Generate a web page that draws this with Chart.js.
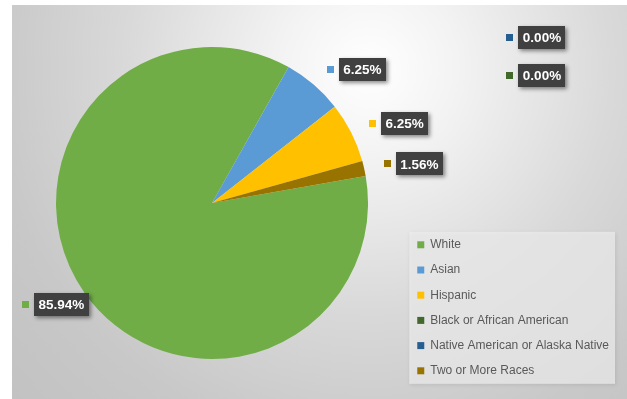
<!DOCTYPE html>
<html>
<head>
<meta charset="utf-8">
<script src="https://cdn.jsdelivr.net/npm/chart.js@4.4.1/dist/chart.umd.min.js"></script>
<style>
    html, body { margin: 0; padding: 0; background: #ffffff; }
    #chartBox {
        position: absolute;
        left: 12px;
        top: 5px;
        width: 615px;
        height: 394px;
        background: radial-gradient(circle at 58% 16%, #ffffff 0%, #f3f3f3 18%, #d9d9d9 50%, #c8c8c8 78%, #c2c2c2 100%);
    }
</style>
</head>
<body>
<div id="chartBox"><canvas id="raceChart"></canvas></div>
<script>
// Chart data
const categories = ['White', 'Asian', 'Hispanic', 'Black or African American', 'Native American or Alaska Native', 'Two or More Races'];
const shares = [85.94, 6.25, 6.25, 0.00, 0.00, 1.56];
const sliceColors = ['#70ad47', '#5b9bd5', '#ffc000', '#43682b', '#255e91', '#997300'];

const legendTextColor = '#595959';
const labelFont = "bold 13.5px 'Liberation Sans', Arial, sans-serif";
const labelGap = 20;    // distance from the pie edge to the label anchor
const labelMargin = 10; // labels are kept this far inside the chart edge

// Draws one data label: coloured square + dark box with white text.
// side = 1 puts the label right of the anchor, -1 left of it, 0 centres it.
function drawLabel(chart, text, color, ax, ay, side) {
    const ctx = chart.ctx;
    const textWidth = ctx.measureText(text).width;
    const boxW = textWidth + 9;
    const boxH = 23;
    const total = 7 + 5 + boxW;
    let left = side > 0 ? ax : side < 0 ? ax - total : ax - total / 2;
    left = Math.max(labelMargin, Math.min(left, chart.width - labelMargin - total));

    ctx.fillStyle = color;
    ctx.fillRect(Math.round(left), Math.round(ay - 3.5), 7, 7);

    ctx.save();
    ctx.shadowColor = 'rgba(0, 0, 0, 0.45)';
    ctx.shadowBlur = 4;
    ctx.shadowOffsetX = 2;
    ctx.shadowOffsetY = 2;
    ctx.fillStyle = '#404040';
    ctx.fillRect(Math.round(left + 12), Math.round(ay - boxH / 2), Math.round(boxW), boxH);
    ctx.restore();

    ctx.fillStyle = '#ffffff';
    ctx.textAlign = 'center';
    ctx.textBaseline = 'middle';
    ctx.fillText(text, left + 12 + boxW / 2, ay + 1);
}

const sliceLabels = {
    id: 'sliceLabels',
    afterDatasetsDraw(chart) {
        const ctx = chart.ctx;
        const meta = chart.getDatasetMeta(0);
        const zeroSlices = [];
        ctx.save();
        ctx.font = labelFont;
        meta.data.forEach((arc, i) => {
            if (shares[i] === 0) {
                zeroSlices.push(i);
                return;
            }
            const mid = (arc.startAngle + arc.endAngle) / 2;
            const dist = arc.outerRadius + labelGap;
            const ax = arc.x + Math.cos(mid) * dist;
            const ay = arc.y + Math.sin(mid) * dist;
            drawLabel(chart, shares[i].toFixed(2) + '%', sliceColors[i], ax, ay, ax >= arc.x ? 1 : -1);
        });
        // empty slices get stacked in the top right corner, last one on top
        zeroSlices.reverse().forEach((i, k) => {
            drawLabel(chart, shares[i].toFixed(2) + '%', sliceColors[i], chart.width - 91, 32.5 + k * 37.5, 0);
        });
        ctx.restore();
    }
};

// Light panel behind the legend
const legendPanel = {
    id: 'legendPanel',
    beforeDraw(chart) {
        const legend = chart.legend;
        if (!legend || !legend.legendHitBoxes.length) return;
        const boxes = legend.legendHitBoxes;
        const first = boxes[0];
        const last = boxes[boxes.length - 1];
        const x0 = first.left - 8;
        const y0 = first.top - 7;
        const x1 = legend.right - 4;
        const y1 = last.top + last.height + 7;
        const ctx = chart.ctx;
        ctx.save();
        ctx.shadowColor = 'rgba(0, 0, 0, 0.12)';
        ctx.shadowBlur = 4;
        ctx.shadowOffsetX = 1;
        ctx.shadowOffsetY = 1;
        ctx.fillStyle = 'rgba(236, 236, 236, 0.75)';
        ctx.fillRect(x0, y0, x1 - x0, y1 - y0);
        ctx.restore();
    }
};

function renderChart() {
    const ctx = document.getElementById('raceChart').getContext('2d');
    new Chart(ctx, {
        type: 'pie',
        data: {
            labels: categories,
            datasets: [{
                data: shares,
                backgroundColor: sliceColors,
                borderWidth: 0
            }]
        },
        options: {
            responsive: true,
            maintainAspectRatio: false,
            animation: false,
            rotation: 80,
            radius: 156,
            layout: {
                padding: { top: 11, bottom: 9, left: 8, right: 8 }
            },
            plugins: {
                legend: {
                    display: true,
                    position: 'right',
                    align: 'end',
                    labels: {
                        boxWidth: 7,
                        boxHeight: 7,
                        padding: 13.2,
                        color: legendTextColor,
                        font: {
                            family: "'Liberation Sans', Arial, sans-serif",
                            size: 12
                        }
                    }
                },
                tooltip: { enabled: false }
            }
        },
        plugins: [legendPanel, sliceLabels]
    });
}

if (document.readyState === 'loading') {
    document.addEventListener('DOMContentLoaded', renderChart);
} else {
    renderChart();
}
</script>
</body>
</html>
